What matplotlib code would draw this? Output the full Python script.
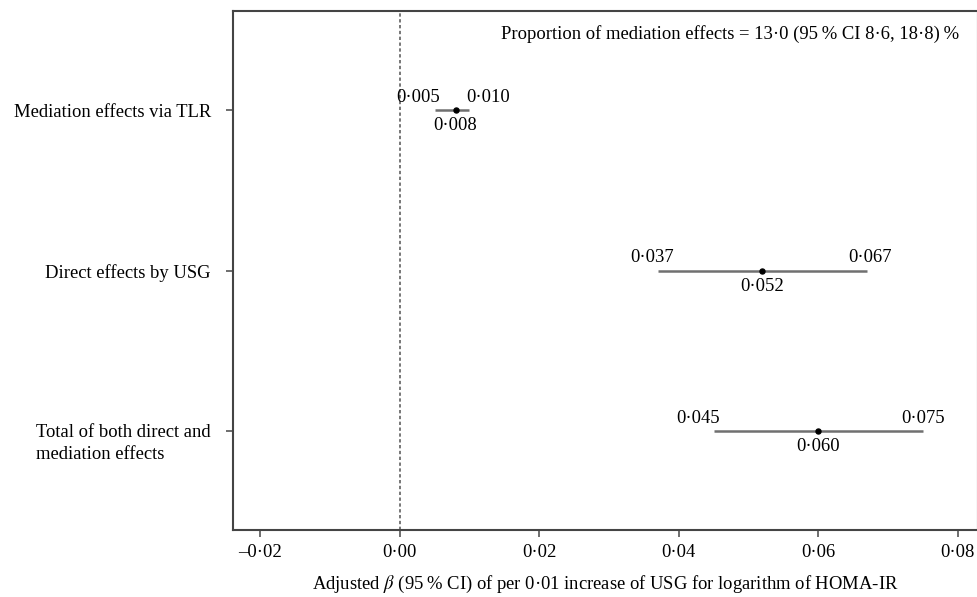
import matplotlib
matplotlib.use("Agg")
import matplotlib.pyplot as plt
from matplotlib.transforms import ScaledTranslation

plt.rcParams["font.family"] = ["Liberation Serif", "DejaVu Serif"]
plt.rcParams["mathtext.fontset"] = "stix"

# Données
categories = ["Mediation effects via TLR", "Direct effects by USG",
              "Total of both direct and\nmediation effects"]
estimates = [0.008, 0.052, 0.060]
lower = [0.005, 0.037, 0.045]
upper = [0.010, 0.067, 0.075]
xticks = [-0.02, 0.00, 0.02, 0.04, 0.06, 0.08]

# placement des étiquettes (bornes inf / sup) : alignement, décalage en points
lo_style = [("right", 4), ("center", -4), ("center", -11)]
hi_style = [("left", -2), ("center", 2), ("center", 0)]


def fmt(v, nd=3):
    s = f"{v:.{nd}f}".replace(".", "\u00b7")
    return s.replace("-", "\u2013")


fig = plt.figure(figsize=(9.77, 5.97), dpi=100)
ax = fig.add_axes([0.2385, 0.1122, 0.7625, 0.8690])

ypos = [3, 2, 1]
fs = 13.4
for i, (y, est, lo, hi) in enumerate(zip(ypos, estimates, lower, upper)):
    ax.plot([lo, hi], [y, y], color="#707070", lw=1.8, solid_capstyle="butt", zorder=2)
    ax.plot(est, y, "o", color="black", ms=3.6, zorder=3)
    ax.annotate(fmt(lo), (lo, y), xytext=(lo_style[i][1], 3), textcoords="offset points",
                ha=lo_style[i][0], va="bottom", fontsize=fs)
    ax.annotate(fmt(hi), (hi, y), xytext=(hi_style[i][1], 3), textcoords="offset points",
                ha=hi_style[i][0], va="bottom", fontsize=fs)
    ax.annotate(fmt(est), (est, y), xytext=(0, -5), textcoords="offset points",
                ha="center", va="top", fontsize=fs)

ax.axvline(0, color="#606060", lw=1.2, ls=(0, (2, 1.5)), zorder=1)

ax.text(0.0802, 3.48, "Proportion of mediation effects = 13\u00b70 (95\u2009% CI 8\u00b76, 18\u00b78)\u2009%",
        ha="right", va="center", fontsize=fs)

ax.set_xlim(-0.0239, 0.0829)
ax.set_ylim(0.38, 3.62)
ax.set_xticks(xticks)
ax.set_xticklabels([fmt(t, 2) for t in xticks], fontsize=fs)
ax.set_yticks(ypos)
ax.set_yticklabels(categories, fontsize=fs, linespacing=1.35)
ax.set_xlabel("Adjusted $\\beta$ (95\u2009% CI) of per 0\u00b701 increase of USG for logarithm of HOMA-IR",
              fontsize=fs, labelpad=9)

for s in ax.spines.values():
    s.set_color("#444444")
    s.set_linewidth(1.5)
ax.tick_params(axis="both", color="#555555", width=1.2, length=5)
ax.tick_params(axis="x", pad=5)
ax.tick_params(axis="y", pad=11)

# libellé sur deux lignes : aligné à gauche, première ligne au niveau du repère
for lab in ax.get_yticklabels():
    if "\n" in lab.get_text():
        lab.set_multialignment("left")
        lab.set_transform(lab.get_transform() + ScaledTranslation(0, -0.085, fig.dpi_scale_trans))

fig.savefig("out.png", dpi=100)
